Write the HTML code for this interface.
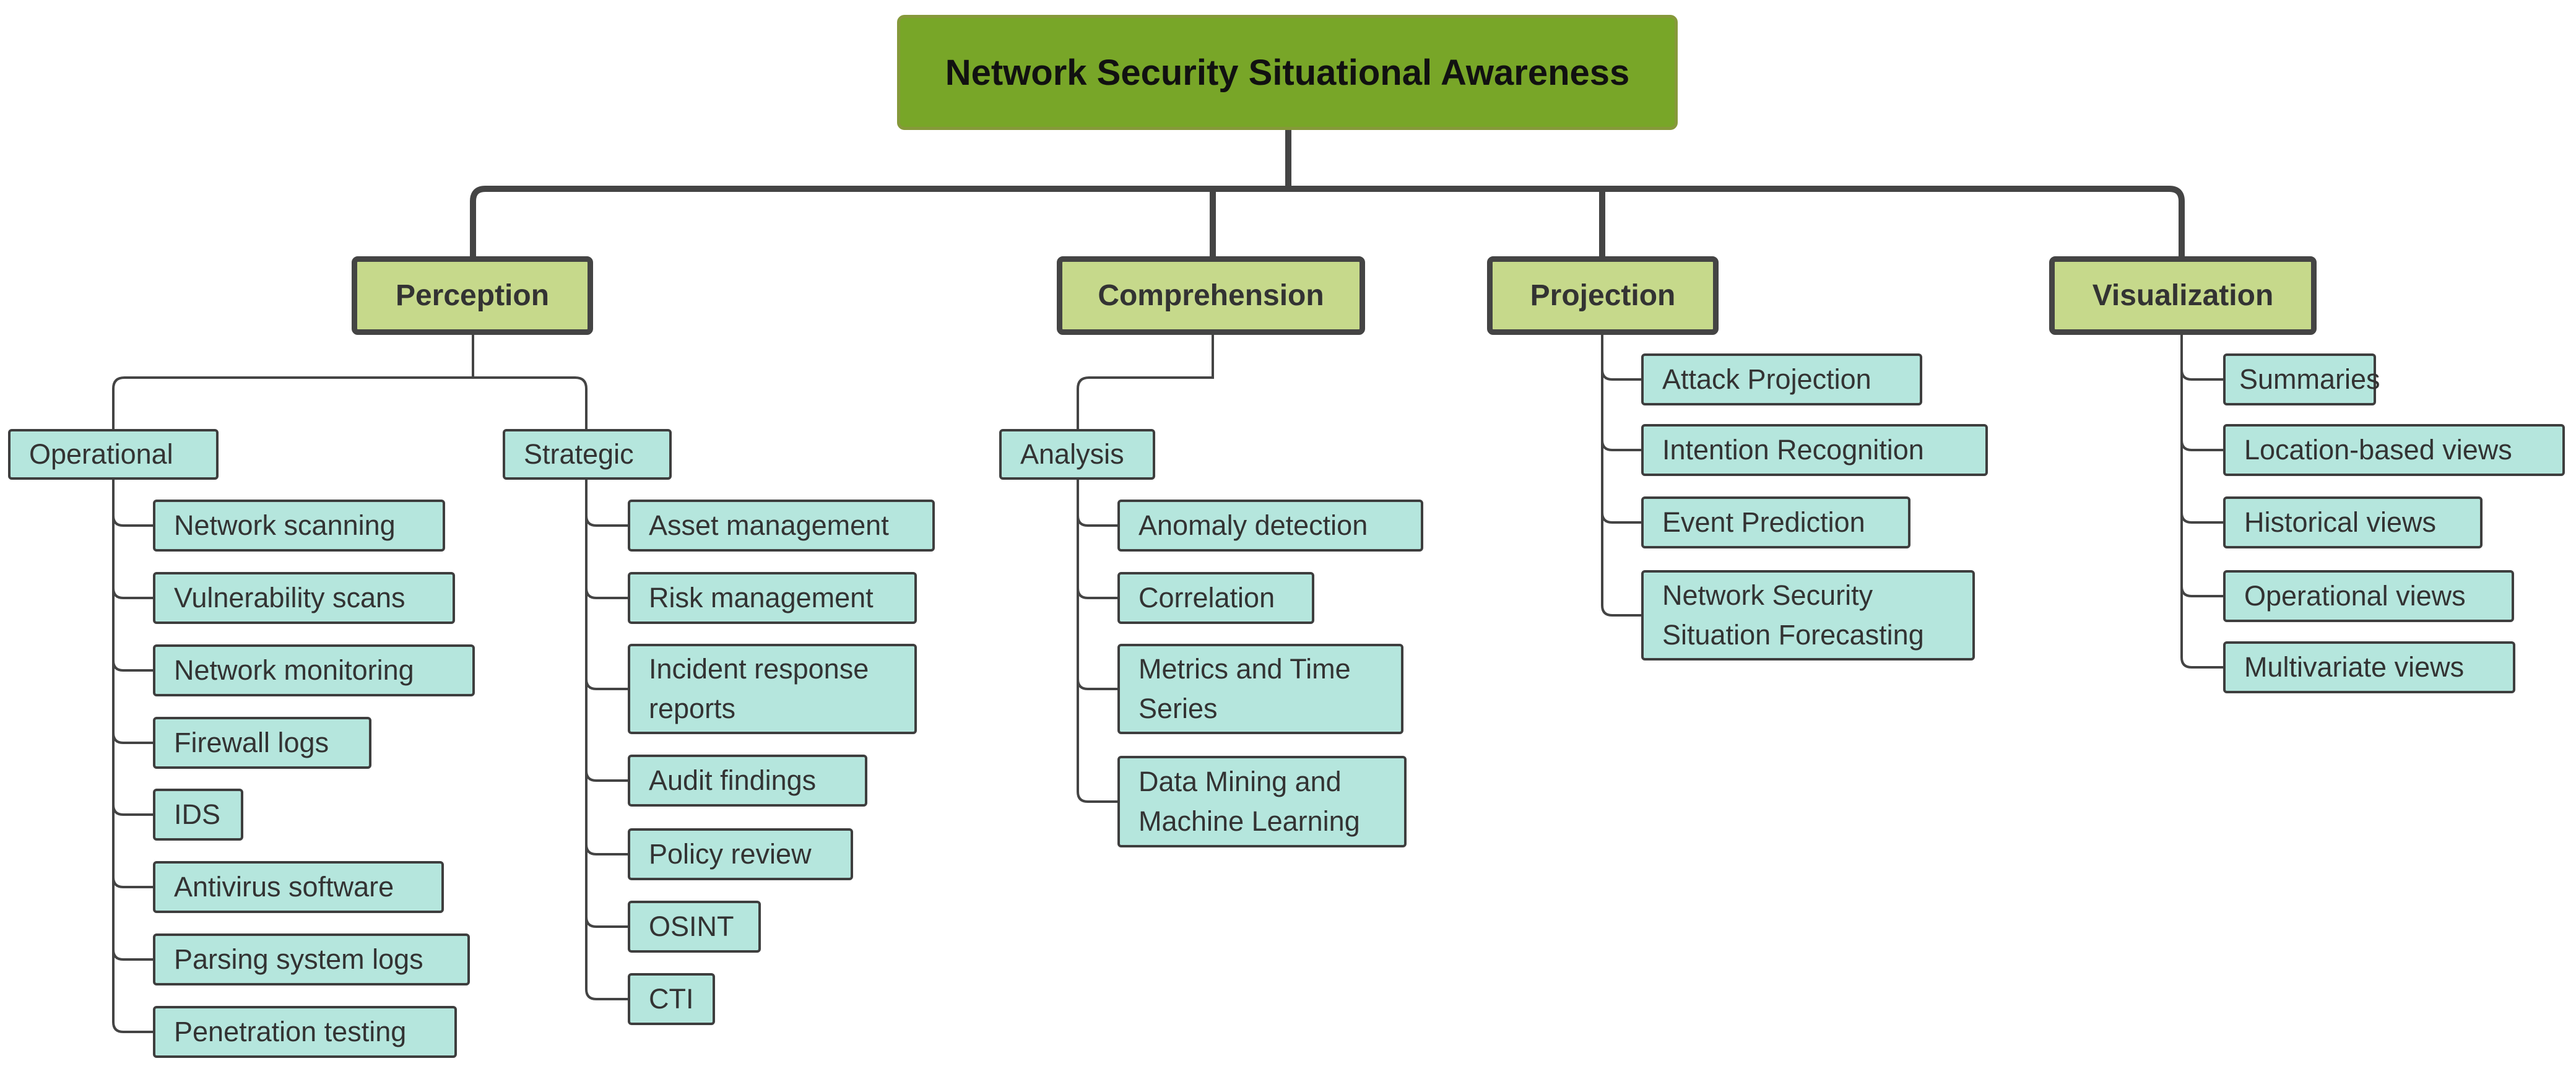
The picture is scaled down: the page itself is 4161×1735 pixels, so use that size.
<!DOCTYPE html>
<html><head><meta charset="utf-8"><style>
html,body{margin:0;padding:0;background:#fff;}
#c{position:relative;width:4161px;height:1735px;overflow:hidden;font-family:"Liberation Sans",sans-serif;}
svg{position:absolute;left:0;top:0;}
.b{position:absolute;box-sizing:border-box;display:flex;align-items:center;}
.root{background:#78a628;border:5px solid #86993a;border-radius:12px;justify-content:center;font-weight:bold;font-size:58px;color:#111;}
.l1{background:#c6d98b;border:9px solid #444;border-radius:10px;justify-content:center;font-weight:bold;font-size:48px;color:#333;}
.l2,.lf{background:#b5e6dd;border:4px solid #3e3e3e;border-radius:6px;padding-left:30px;font-size:45px;color:#333;line-height:64px;white-space:nowrap;}
</style></head><body><div id="c">
<svg width="4161" height="1735" fill="none" stroke="#444">
<g stroke-width="10">
<path d="M2081 210V305"/>
<path d="M764 414V325Q764 305 784 305H3504Q3524 305 3524 325V414"/>
<path d="M1959 305V414M2588 305V414"/>
</g>
<g stroke-width="4">
<path d="M764 541V610"/>
<path d="M183 693V628Q183 610 201 610H929Q947 610 947 628V693"/>
<path d="M1959 541V610H1759Q1741 610 1741 628V693"/>
<path d="M183 775V1651M947 775V1598M1741 775V1279M2588 541V978M3524 541V1062"/>
<path d="M183 833Q183 849 199 849H247M183 950Q183 966 199 966H247M183 1067Q183 1083 199 1083H247M183 1184Q183 1200 199 1200H247M183 1300Q183 1316 199 1316H247M183 1417Q183 1433 199 1433H247M183 1534Q183 1550 199 1550H247M183 1651Q183 1667 199 1667H247"/>
<path d="M947 833Q947 849 963 849H1014M947 950Q947 966 963 966H1014M947 1097Q947 1113 963 1113H1014M947 1245Q947 1261 963 1261H1014M947 1364Q947 1380 963 1380H1014M947 1481Q947 1497 963 1497H1014M947 1598Q947 1614 963 1614H1014"/>
<path d="M1741 833Q1741 849 1757 849H1805M1741 950Q1741 966 1757 966H1805M1741 1097Q1741 1113 1757 1113H1805M1741 1279Q1741 1295 1757 1295H1805"/>
<path d="M2588 597Q2588 613 2604 613H2651M2588 711Q2588 727 2604 727H2651M2588 828Q2588 844 2604 844H2651M2588 978Q2588 994 2604 994H2651"/>
<path d="M3524 597Q3524 613 3540 613H3591M3524 711Q3524 727 3540 727H3591M3524 828Q3524 844 3540 844H3591M3524 947Q3524 963 3540 963H3591M3524 1062Q3524 1078 3540 1078H3591"/>
</g>
</svg>
<div class="b root" style="left:1449px;top:24px;width:1261px;height:186px">Network Security Situational Awareness</div>
<div class="b l1" style="left:568px;top:414px;width:390px;height:127px">Perception</div>
<div class="b l1" style="left:1707px;top:414px;width:498px;height:127px">Comprehension</div>
<div class="b l1" style="left:2402px;top:414px;width:374px;height:127px">Projection</div>
<div class="b l1" style="left:3310px;top:414px;width:432px;height:127px">Visualization</div>

<div class="b l2" style="left:13px;top:693px;width:340px;height:82px">Operational</div>
<div class="b l2" style="left:812px;top:693px;width:273px;height:82px">Strategic</div>
<div class="b l2" style="left:1614px;top:693px;width:252px;height:82px">Analysis</div>

<div class="b lf" style="left:247px;top:807px;width:472px;height:84px">Network scanning</div>
<div class="b lf" style="left:247px;top:924px;width:488px;height:84px">Vulnerability scans</div>
<div class="b lf" style="left:247px;top:1041px;width:520px;height:84px">Network monitoring</div>
<div class="b lf" style="left:247px;top:1158px;width:353px;height:84px">Firewall logs</div>
<div class="b lf" style="left:247px;top:1274px;width:146px;height:84px">IDS</div>
<div class="b lf" style="left:247px;top:1391px;width:470px;height:84px">Antivirus software</div>
<div class="b lf" style="left:247px;top:1508px;width:512px;height:84px">Parsing system logs</div>
<div class="b lf" style="left:247px;top:1625px;width:491px;height:84px">Penetration testing</div>

<div class="b lf" style="left:1014px;top:807px;width:496px;height:84px">Asset management</div>
<div class="b lf" style="left:1014px;top:924px;width:467px;height:84px">Risk management</div>
<div class="b lf" style="left:1014px;top:1040px;width:467px;height:146px;white-space:normal">Incident response<br>reports</div>
<div class="b lf" style="left:1014px;top:1219px;width:387px;height:84px">Audit findings</div>
<div class="b lf" style="left:1014px;top:1338px;width:364px;height:84px">Policy review</div>
<div class="b lf" style="left:1014px;top:1455px;width:215px;height:84px">OSINT</div>
<div class="b lf" style="left:1014px;top:1572px;width:141px;height:84px">CTI</div>

<div class="b lf" style="left:1805px;top:807px;width:494px;height:84px">Anomaly detection</div>
<div class="b lf" style="left:1805px;top:924px;width:318px;height:84px">Correlation</div>
<div class="b lf" style="left:1805px;top:1040px;width:462px;height:146px;white-space:normal">Metrics and Time<br>Series</div>
<div class="b lf" style="left:1805px;top:1221px;width:467px;height:148px;white-space:normal">Data Mining and<br>Machine Learning</div>

<div class="b lf" style="left:2651px;top:571px;width:454px;height:84px">Attack Projection</div>
<div class="b lf" style="left:2651px;top:685px;width:560px;height:84px">Intention Recognition</div>
<div class="b lf" style="left:2651px;top:802px;width:435px;height:84px">Event Prediction</div>
<div class="b lf" style="left:2651px;top:921px;width:539px;height:146px;white-space:normal">Network Security<br>Situation Forecasting</div>

<div class="b lf" style="left:3591px;top:571px;width:247px;height:84px;padding-left:22px">Summaries</div>
<div class="b lf" style="left:3591px;top:685px;width:552px;height:84px">Location-based views</div>
<div class="b lf" style="left:3591px;top:802px;width:419px;height:84px">Historical views</div>
<div class="b lf" style="left:3591px;top:921px;width:470px;height:84px">Operational views</div>
<div class="b lf" style="left:3591px;top:1036px;width:472px;height:84px">Multivariate views</div>
</div></body></html>
